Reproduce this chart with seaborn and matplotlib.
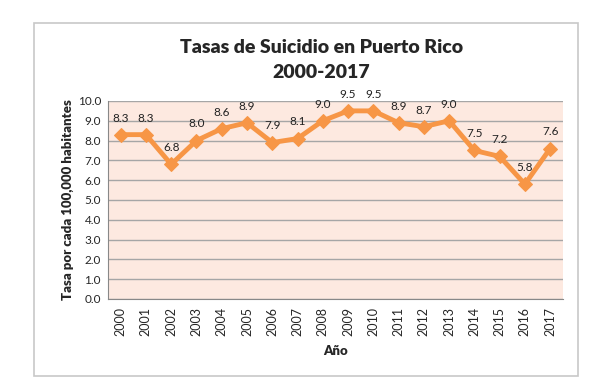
import numpy as np
import pandas as pd
import matplotlib
matplotlib.use('Agg')
import matplotlib.pyplot as plt
import seaborn as sns
from matplotlib.patches import Rectangle

# Data
years = ['2000', '2001', '2002', '2003', '2004', '2005', '2006', '2007', '2008',
         '2009', '2010', '2011', '2012', '2013', '2014', '2015', '2016', '2017']
rates = [8.3, 8.3, 6.8, 8.0, 8.6, 8.9, 7.9, 8.1, 9.0,
         9.5, 9.5, 8.9, 8.7, 9.0, 7.5, 7.2, 5.8, 7.6]

df = pd.DataFrame({'pos': np.arange(len(years)), 'rate': rates})

sns.set_style('white')
plt.rcParams['font.family'] = ['Lato', 'DejaVu Sans']

fig = plt.figure(figsize=(6, 3.86), dpi=100)
ax = fig.add_axes([0.18, 0.2254, 0.758, 0.513])

# chart border
fig.patches.append(Rectangle((34 / 600, 1 - 376 / 386), (578 - 34) / 600, (376 - 23) / 386,
                             transform=fig.transFigure, fill=False,
                             edgecolor='#c8c8c8', linewidth=1.2))

ax.set_facecolor('#fde9e0')
sns.lineplot(data=df, x='pos', y='rate', ax=ax, color='#f79646', linewidth=3.5,
             marker='D', markersize=7, markeredgecolor='#f79646')

for x, y in zip(df['pos'], df['rate']):
    ax.annotate(f'{y:.1f}', (x, y), xytext=(0, 8), textcoords='offset points',
                ha='center', va='bottom', fontsize=8.5, color='#222222')

ax.set_xlim(-0.5, len(years) - 0.5)
ax.set_ylim(0, 10)
ax.set_yticks(np.arange(0, 10.1, 1.0))
ax.set_yticklabels([f'{v:.1f}' for v in np.arange(0, 10.1, 1.0)], fontsize=8.5)
ax.set_xticks(df['pos'])
ax.set_xticklabels(years, rotation=90, fontsize=9)
ax.set_xticks(np.arange(-0.5, len(years), 1.0), minor=True)
ax.tick_params(axis='x', which='major', length=0, pad=6)
ax.tick_params(axis='x', which='minor', length=4, color='#888888', width=0.8)
ax.tick_params(axis='y', length=3, color='#888888', width=0.8, pad=2)

ax.yaxis.grid(True, color='#a6a6a6', linewidth=1)
ax.xaxis.grid(False)
ax.set_axisbelow(True)
for s in ['top', 'right']:
    ax.spines[s].set_visible(False)
for s in ['left', 'bottom']:
    ax.spines[s].set_color('#888888')
    ax.spines[s].set_linewidth(0.8)

ax.set_xlabel('Año', fontsize=9.5, fontweight='heavy', labelpad=6)
ax.set_ylabel('Tasa por cada 100,000 habitantes', fontsize=9.5, fontweight='heavy', labelpad=3)
fig.text(0.536, 1 - 60 / 386, 'Tasas de Suicidio en Puerto Rico\n2000-2017', ha='center',
         va='center', fontsize=14, fontweight='heavy', linespacing=1.55)

fig.savefig('out.png', dpi=100, facecolor='white')
